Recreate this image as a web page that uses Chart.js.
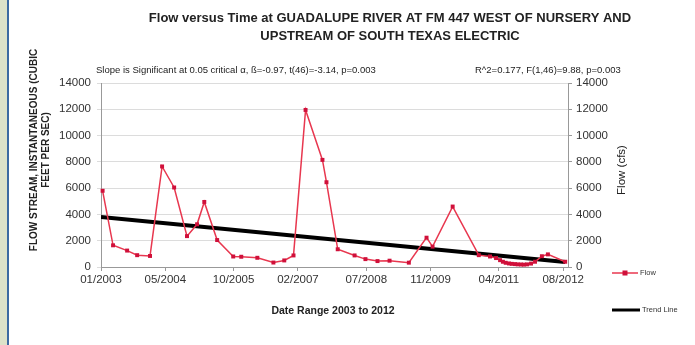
<!DOCTYPE html>
<html>
<head>
<meta charset="utf-8">
<script src="https://cdn.jsdelivr.net/npm/chart.js@4.4.1/dist/chart.umd.min.js"></script>
<style>
  html, body { margin: 0; padding: 0; background: #fff; }
  canvas { display: block; }
</style>
</head>
<body>
<canvas id="grafico" width="695" height="345"></canvas>
<script>
// Meses desde 01/2003 para cada medição
const months = [0.4, 3, 6.5, 9, 12.2, 15.2, 18.2, 21.4, 23.9, 25.7, 28.9, 32.9, 34.9, 38.9, 42.9,
  45.6, 47.9, 50.9, 55.1, 56.1, 58.9, 63.1, 65.8, 68.8, 71.8, 76.6, 81, 82.5, 87.5, 94,
  96.8, 98.3, 99.3, 100, 100.7, 101.5, 102.2, 103, 103.7, 104.5, 105.2, 106, 107, 108,
  109.7, 111.2, 115.5];
// Vazão (cfs)
const flow = [5800, 1650, 1250, 900, 840, 7650, 6050, 2350, 3250, 4950, 2050, 800, 780, 700, 340,
  500, 880, 11950, 8150, 6450, 1350, 880, 600, 450, 480, 330, 2230, 1550, 4600, 900,
  800, 680, 520, 400, 320, 270, 240, 220, 200, 190, 180, 200, 260, 400,
  820, 960, 400];
// Linha de tendência (início e fim)
const trendMonths = [0, 115.5];
const trendFlow = [3800, 380];
// Rótulos do eixo X
const tickMonths = [0, 16, 33, 49, 66, 82, 99, 115];
const tickLabels = ['01/2003', '05/2004', '10/2005', '02/2007', '07/2008', '11/2009', '04/2011', '08/2012'];

const FONT = "'Liberation Sans', Arial, sans-serif";

// Desenha títulos, legenda e faixa lateral
const textos = {
  id: 'textos',
  beforeDraw(chart) {
    const ctx = chart.ctx;
    ctx.save();
    ctx.fillStyle = '#dde2c9';
    ctx.fillRect(0, 0, 8, 345);
    ctx.fillStyle = '#3d6aa2';
    ctx.fillRect(7, 0, 2, 345);
    ctx.restore();
  },
  afterDraw(chart) {
    const ctx = chart.ctx;
    ctx.save();
    ctx.fillStyle = '#222';
    ctx.textBaseline = 'middle';

    // Título
    ctx.textAlign = 'center';
    ctx.font = 'bold 13px ' + FONT;
    ctx.fillText('Flow versus Time at GUADALUPE RIVER AT FM 447 WEST OF NURSERY AND', 390, 18, 556);
    ctx.fillText('UPSTREAM OF SOUTH TEXAS ELECTRIC', 390, 36, 312);

    // Estatísticas
    ctx.textAlign = 'left';
    ctx.font = '9.5px ' + FONT;
    ctx.fillText('Slope is Significant at 0.05 critical \u03B1, \u00DF=-0.97, t(46)=-3.14, p=0.003', 96, 70, 280);
    ctx.fillText('R^2=0.177, F(1,46)=9.88, p=0.003', 475, 70, 172);

    // Título do eixo X
    ctx.textAlign = 'center';
    ctx.font = 'bold 10.5px ' + FONT;
    ctx.fillText('Date Range 2003 to 2012', 333, 311);

    // Título do eixo Y esquerdo
    ctx.save();
    ctx.translate(40, 150);
    ctx.rotate(-Math.PI / 2);
    ctx.font = 'bold 10px ' + FONT;
    ctx.fillText('FLOW STREAM, INSTANTANEOUS (CUBIC', 0, -6, 220);
    ctx.fillText('FEET PER SEC)', 0, 6);
    ctx.restore();

    // Título do eixo Y direito
    ctx.save();
    ctx.translate(622, 170);
    ctx.rotate(-Math.PI / 2);
    ctx.font = '11.5px ' + FONT;
    ctx.fillText('Flow (cfs)', 0, 0);
    ctx.restore();

    // Legenda
    ctx.strokeStyle = '#e8374f';
    ctx.lineWidth = 1.5;
    ctx.beginPath();
    ctx.moveTo(612, 273);
    ctx.lineTo(638, 273);
    ctx.stroke();
    ctx.fillStyle = '#d0103a';
    ctx.fillRect(622.5, 270.5, 5, 5);
    ctx.strokeStyle = '#000';
    ctx.lineWidth = 3;
    ctx.beginPath();
    ctx.moveTo(612, 310);
    ctx.lineTo(640, 310);
    ctx.stroke();
    ctx.fillStyle = '#333';
    ctx.textAlign = 'left';
    ctx.font = '7.5px ' + FONT;
    ctx.fillText('Flow', 640, 273);
    ctx.fillText('Trend Line', 642, 310);
    ctx.restore();
  }
};

const flowPoints = months.map((m, i) => ({ x: m, y: flow[i] }));
const trendPoints = trendMonths.map((m, i) => ({ x: m, y: trendFlow[i] }));

new Chart(document.getElementById('grafico'), {
  type: 'line',
  data: {
    datasets: [
      {
        label: 'Flow',
        data: flowPoints,
        borderColor: '#e8374f',
        borderWidth: 1.5,
        pointStyle: 'rect',
        pointRadius: 2.8,
        pointBackgroundColor: '#d0103a',
        pointBorderColor: '#d0103a',
        pointBorderWidth: 0,
        tension: 0,
        clip: false,
        yAxisID: 'y'
      },
      {
        label: 'Trend Line',
        data: trendPoints,
        borderColor: '#000',
        borderWidth: 4,
        pointRadius: 0,
        yAxisID: 'y'
      }
    ]
  },
  options: {
    responsive: false,
    animation: false,
    layout: { padding: { top: 83, left: 0, right: 0, bottom: 0 } },
    plugins: { legend: { display: false }, title: { display: false }, tooltip: { enabled: false } },
    scales: {
      x: {
        type: 'linear',
        min: 0,
        max: 116.2,
        afterFit: s => { s.height = 78; },
        afterBuildTicks: s => { s.ticks = tickMonths.map(v => ({ value: v })); },
        ticks: {
          autoSkip: false,
          maxRotation: 0,
          color: '#333',
          font: { family: FONT, size: 11.5 },
          padding: 2,
          callback: (v) => tickLabels[tickMonths.indexOf(v)]
        },
        grid: { drawOnChartArea: false, tickLength: 4, color: '#999' },
        border: { color: '#999' }
      },
      y: {
        position: 'left',
        min: 0,
        max: 14000,
        afterFit: s => { s.width = 101; },
        ticks: { stepSize: 2000, color: '#333', font: { family: FONT, size: 11.5 }, padding: 6, callback: v => String(v) },
        grid: { color: '#dcdcdc', tickLength: 4 },
        border: { color: '#999' }
      },
      y2: {
        position: 'right',
        min: 0,
        max: 14000,
        afterFit: s => { s.width = 127; },
        ticks: { stepSize: 2000, color: '#333', font: { family: FONT, size: 11.5 }, padding: 4, callback: v => String(v) },
        grid: { drawOnChartArea: false, tickLength: 4, color: '#999' },
        border: { color: '#999' }
      }
    }
  },
  plugins: [textos]
});
</script>
</body>
</html>
